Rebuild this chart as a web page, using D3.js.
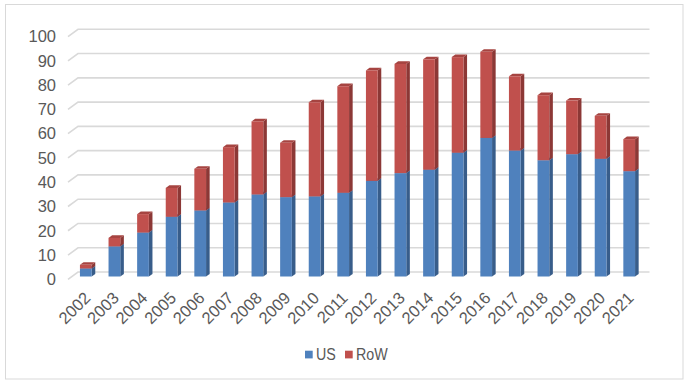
<!DOCTYPE html>
<html>
<head>
<meta charset="utf-8">
<script src="https://cdn.jsdelivr.net/npm/d3@7"></script>
<style>
  html, body { margin: 0; padding: 0; background: #fff; }
  svg { display: block; }
  text { font-family: "Liberation Sans", Arial, sans-serif; fill: #595959; }
</style>
</head>
<body>
<svg id="chart" width="688" height="384"></svg>
<script>
const years = ["2002","2003","2004","2005","2006","2007","2008","2009","2010","2011",
               "2012","2013","2014","2015","2016","2017","2018","2019","2020","2021"];
const us  = [3.3, 12.4, 18.1, 24.6, 27.2, 30.5, 33.8, 32.7, 33.0, 34.5,
             39.4, 42.6, 44.0, 51.0, 57.1, 51.9, 47.9, 50.4, 48.5, 43.4];
const row = [1.5, 3.5, 7.6, 11.9, 17.2, 22.8, 30.1, 22.4, 38.8, 43.9,
             45.5, 45.0, 45.5, 39.4, 35.5, 30.6, 26.8, 22.1, 17.7, 13.2];
const yTicks = [0,10,20,30,40,50,60,70,80,90,100];
const seriesNames = ["US", "RoW"];

const colors = {
  US:  { front: "#4F81BD", side: "#385D8A", top: "#4472A8" },
  RoW: { front: "#C0504D", side: "#8C3836", top: "#A64441" }
};

const svg = d3.select("#chart");

// border
svg.append("rect").attr("x", 5.5).attr("y", 4.5).attr("width", 677.5).attr("height", 374.5)
  .attr("fill", "#fff").attr("stroke", "#D9D9D9").attr("stroke-width", 1);

// scales
const x = d3.scaleBand().domain(years).range([71.5, 643.5]).paddingInner(0.59).paddingOuter(0.295);
const y = d3.scaleLinear().domain([0, 100]).range([276.5, 33.8]);   // bar front plane

// 3D offsets
const wallBack = { dx: 78 - 68, dy: -7.3 };
const frontX = 68, backRight = 649.5;
const frontOff = 2.8;
const backOff = -4.5;
const depth = { dx: 3.6, dy: -2.6 };

// gridlines
const grid = svg.append("g");
yTicks.forEach(t => {
  const yf = y(t) + frontOff, yb = y(t) + backOff;
  grid.append("path")
    .attr("d", `M${frontX},${yf}L${frontX + wallBack.dx},${yb}L${backRight},${yb}`)
    .attr("fill", "none").attr("stroke", "#D9D9D9").attr("stroke-width", 1.6);
});

// y axis labels
const yLab = d3.scaleLinear().domain([0, 100]).range([y(0) + frontOff, y(100) + frontOff]);
const yAxis = d3.axisLeft(yLab).tickValues(yTicks).tickSize(0).tickPadding(0);
const ya = svg.append("g").attr("transform", "translate(56,0)").call(yAxis);
ya.select(".domain").remove();
ya.selectAll("text").style("font-size", "16.5px").style("fill", "#595959")
  .style("font-family", "'Liberation Sans', Arial, sans-serif");

// bars
const stacks = years.map((yr, i) => ({ yr, segs: [
  { name: "US",  y0: 0,      y1: us[i] },
  { name: "RoW", y0: us[i],  y1: us[i] + row[i] }
]}));

const bars = svg.append("g");
stacks.forEach(s => {
  const x0 = x(s.yr), w = x.bandwidth();
  s.segs.forEach(seg => {
    const c = colors[seg.name];
    const yt = y(seg.y1), yb = y(seg.y0);
    bars.append("path")
      .attr("d", `M${x0 + w},${yt}L${x0 + w + depth.dx},${yt + depth.dy}L${x0 + w + depth.dx},${yb + depth.dy}L${x0 + w},${yb}Z`)
      .attr("fill", c.side);
    bars.append("path")
      .attr("d", `M${x0},${yt}L${x0 + depth.dx},${yt + depth.dy}L${x0 + w + depth.dx},${yt + depth.dy}L${x0 + w},${yt}Z`)
      .attr("fill", c.top);
    bars.append("rect").attr("x", x0).attr("y", yt).attr("width", w).attr("height", yb - yt)
      .attr("fill", c.front);
  });
});

// x axis labels
const xAxis = d3.axisBottom(x).tickSize(0).tickPadding(0);
const xa = svg.append("g").call(xAxis);
xa.select(".domain").remove();
xa.selectAll(".tick text")
  .attr("y", 0).attr("dy", "0.35em")
  .attr("text-anchor", "end")
  .attr("transform", "translate(1.5,295) rotate(-45)")
  .style("font-size", "16.5px").style("fill", "#595959")
  .style("font-family", "'Liberation Sans', Arial, sans-serif");

// legend
const leg = svg.append("g").attr("transform", "translate(305,348)");
const legGap = [0, 40];
seriesNames.forEach((n, i) => {
  const g = leg.append("g").attr("transform", `translate(${legGap[i]},0)`);
  g.append("rect").attr("x", 0).attr("y", 2.7).attr("width", 7.7).attr("height", 7.7).attr("fill", colors[n].front);
  g.append("text").attr("transform", "translate(11,12) scale(0.84,1)")
    .style("font-family", "'Liberation Sans', Arial, sans-serif")
    .style("font-size", "17px").style("fill", "#595959").text(n);
});
</script>
</body>
</html>
